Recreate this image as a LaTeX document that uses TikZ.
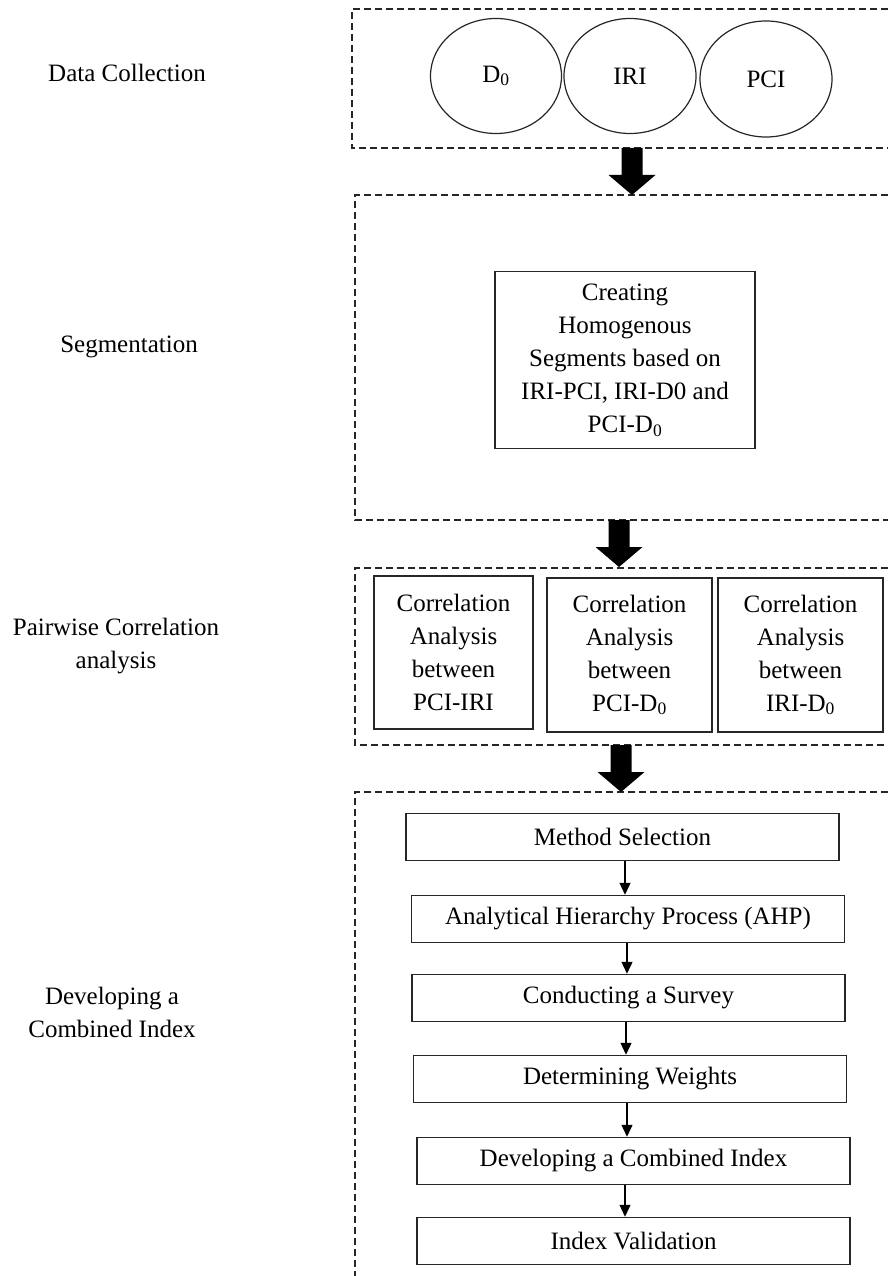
\documentclass[tikz,border=0pt]{standalone}
\usepackage{fontspec}
\setmainfont{Liberation Serif}
\usetikzlibrary{arrows.meta,shapes.geometric,calc}
\begin{document}
\begin{tikzpicture}[x=1pt,y=-1pt,
  every node/.style={font=\fontsize{25}{33}\selectfont, text=black},
  dashbox/.style={draw=black!85, line width=1.3pt, dash pattern=on 7pt off 4pt},
  oval/.style={draw=black!85, ellipse, line width=1.2pt, minimum width=131pt, minimum height=115pt, inner sep=0pt},
  stepbox/.style={draw=black!85, line width=1.5pt, minimum width=433pt, minimum height=47pt, inner sep=0pt},
  corrbox/.style={draw=black!85, line width=1.5pt, align=center, inner sep=0pt, minimum height=154pt},
  smallarrow/.style={line width=1.3pt, draw=black, -{Triangle[width=11pt,length=12pt]}},
  lab/.style={align=center},
  blockarrow/.pic={\fill[black] (-10.5,0) -- (10.5,0) -- (10.5,27) -- (23.5,27) -- (0,47) -- (-23.5,27) -- (-10.5,27) -- cycle;}
]
\useasboundingbox (0,0) rectangle (888,1276);

% left labels
\node[lab] (l1) at (127,73) {Data Collection};
\node[lab] (l2) at (129,347) {Segmentation};
\node[lab] (l3) at (116,646) {Pairwise Correlation\\analysis};
\node[lab] (l4) at (112,1012) {Developing a\\Combined Index};

% dashed group frames (open on the right)
\draw[dashbox] (888,9) -| (352,148) -- (888,148);
\draw[dashbox] (888,195) -| (355,520) -- (888,520);
\draw[dashbox] (888,568) -| (355,745) -- (888,745);
\draw[dashbox] (888,792) -| (355,1276);

% data collection
\node[oval] (d0) at (496,76) {D\textsubscript{0}};
\node[oval, minimum width=132pt] (iri) at (630,76) {IRI};
\node[oval, minimum width=132pt, minimum height=116pt] (pci) at (766,79) {PCI};

% block arrows between groups
\coordinate (a1) at (632,148);
\coordinate (a2) at (619,520);
\coordinate (a3) at (621,745);
\pic at (a1) {blockarrow};
\pic at (a2) {blockarrow};
\pic at (a3) {blockarrow};

% segmentation
\node[draw=black!85, line width=1.5pt, align=center, inner sep=0pt, minimum width=260pt, minimum height=177pt] (seg) at (625,360)
  {Creating\\Homogenous\\Segments based on\\IRI-PCI, IRI-D0 and\\PCI-D\textsubscript{0}};

% correlation boxes
\node[corrbox, minimum width=159pt, minimum height=153pt] (c1) at (453.5,652.5) {Correlation\\Analysis\\between\\PCI-IRI};
\node[corrbox, minimum width=165pt] (c2) at (629.5,655) {Correlation\\Analysis\\between\\PCI-D\textsubscript{0}};
\node[corrbox, minimum width=165pt] (c3) at (800.5,655) {Correlation\\Analysis\\between\\IRI-D\textsubscript{0}};

% combined index steps
\node[stepbox] (s1) at (622.5,837) {Method Selection};
\node[stepbox] (s2) at (628,919) {Analytical Hierarchy Process (AHP)};
\node[stepbox] (s3) at (628.5,998) {Conducting a Survey};
\node[stepbox] (s4) at (630,1079) {Determining Weights};
\node[stepbox] (s5) at (633.5,1161) {Developing a Combined Index};
\node[stepbox] (s6) at (633.5,1241) {Index Validation};

\coordinate (p1) at (s1.south -| 625,0);
\coordinate (p2) at (s2.south -| 627,0);
\coordinate (p3) at (s3.south -| 626,0);
\coordinate (p4) at (s4.south -| 627,0);
\coordinate (p5) at (s5.south -| 625,0);
\draw[smallarrow] (p1) -- (p1 |- s2.north);
\draw[smallarrow] (p2) -- (p2 |- s3.north);
\draw[smallarrow] (p3) -- (p3 |- s4.north);
\draw[smallarrow] (p4) -- (p4 |- s5.north);
\draw[smallarrow] (p5) -- (p5 |- s6.north);
\end{tikzpicture}
\end{document}
